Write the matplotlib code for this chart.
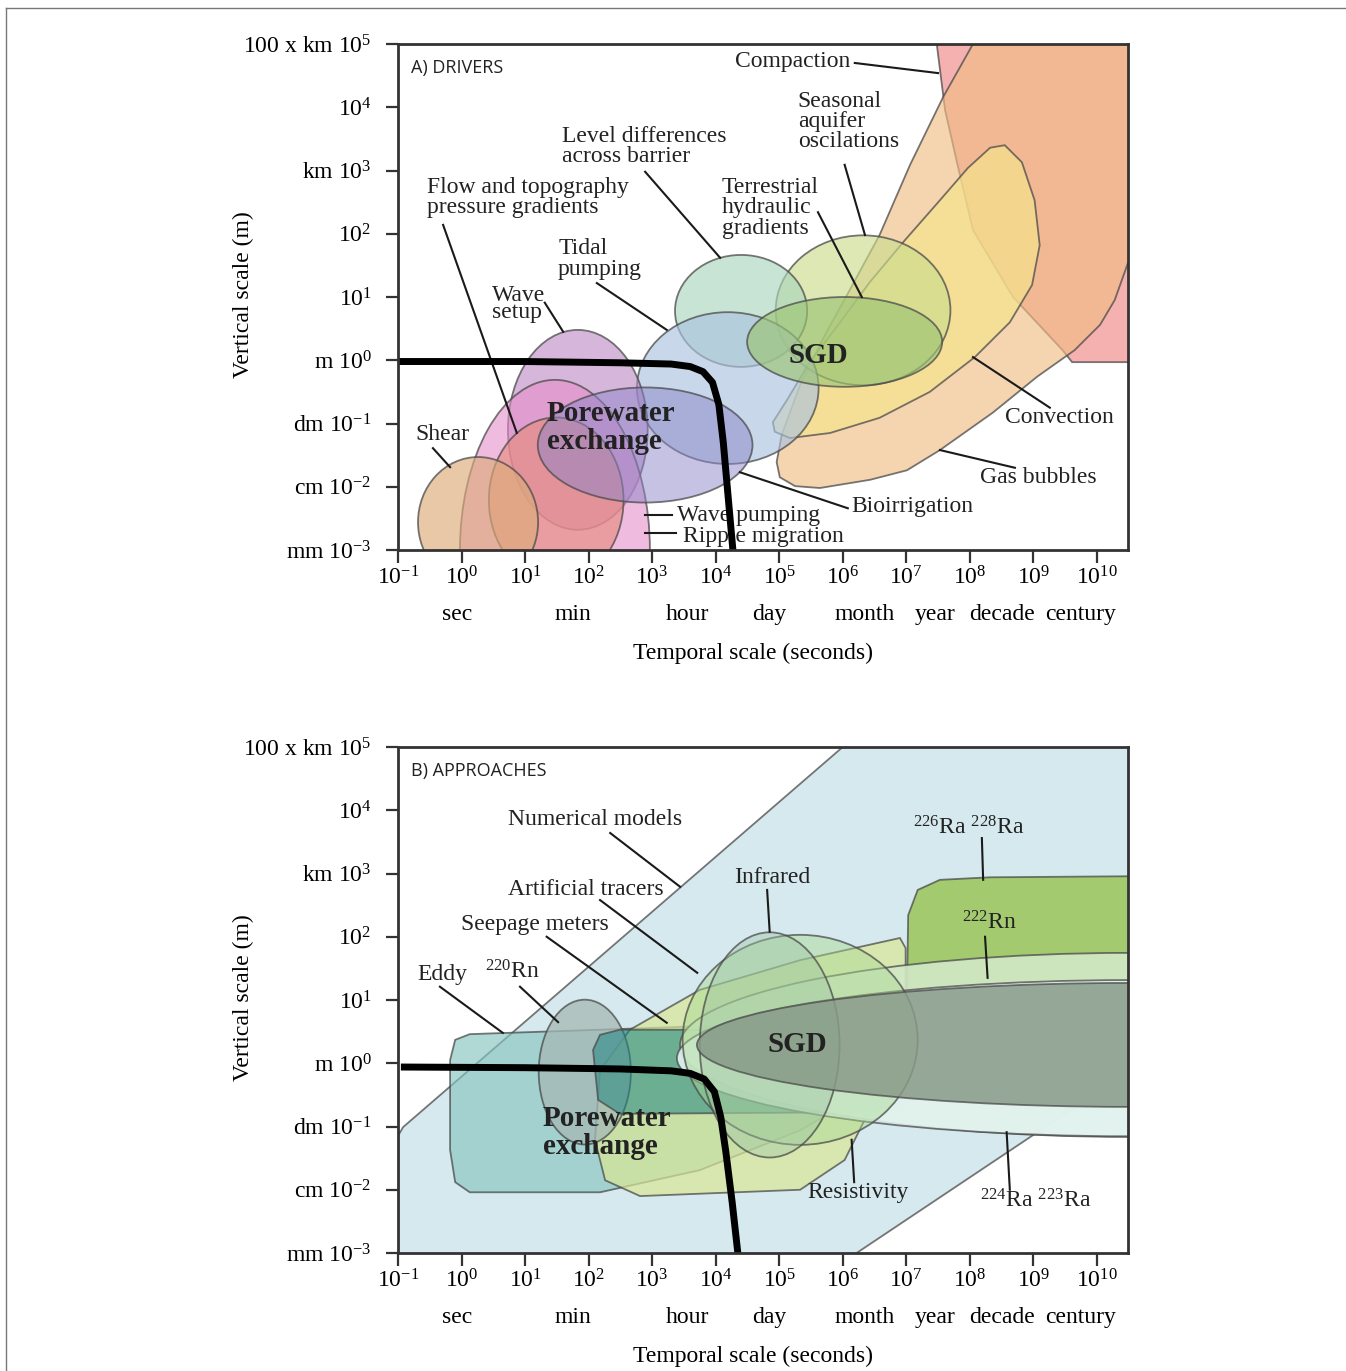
import matplotlib.pyplot as plt
from matplotlib.patches import Ellipse, Polygon
from matplotlib.lines import Line2D
from matplotlib.colors import to_rgba
import matplotlib.transforms as mtransforms

plt.rcParams['font.family'] = ['Liberation Serif', 'DejaVu Serif']
plt.rcParams['mathtext.fontset'] = 'custom'
plt.rcParams['mathtext.rm'] = 'Liberation Serif'
plt.rcParams['mathtext.it'] = 'Liberation Serif:italic'
plt.rcParams['mathtext.bf'] = 'Liberation Serif:bold'

# both axes are in log10 units: x = log10(seconds), y = log10(metres)
x_ticks = list(range(-1, 11))
x_tick_labels = [r'$10^{%d}$' % e for e in x_ticks]
time_units = ['sec', 'min', 'hour', 'day', 'month', 'year', 'decade', 'century']
time_unit_pos = [-0.07, 1.75, 3.55, 4.85, 6.35, 7.45, 8.5, 9.75]
y_ticks = list(range(-3, 6))
y_tick_labels = ['mm $10^{-3}$', 'cm $10^{-2}$', 'dm $10^{-1}$', 'm $10^{0}$',
                 '$10^{1}$', '$10^{2}$', 'km $10^{3}$', '$10^{4}$',
                 '100 x km $10^{5}$']

# porewater exchange / SGD boundary
bound_a_x = [-1.0, 1.0, 2.5, 3.3, 3.6, 3.8, 3.95, 4.05, 4.12, 4.2, 4.28]
bound_a_y = [-0.02, -0.02, -0.04, -0.06, -0.1, -0.18, -0.35, -0.7, -1.3, -2.2, -3.1]
bound_b_x = [-0.9, 1.0, 2.5, 3.3, 3.6, 3.82, 3.98, 4.08, 4.16, 4.26, 4.36]
bound_b_y = [-0.06, -0.07, -0.09, -0.12, -0.16, -0.25, -0.45, -0.85, -1.4, -2.2, -3.1]

# ---- A) drivers: ellipses (centre x, centre y, width, height) ----
drv_names = ['Seasonal aquifer oscillations', 'Level differences across barrier',
             'Tidal pumping', 'Terrestrial hydraulic gradients', 'Wave setup',
             'Ripple migration', 'Flow and topography pressure gradients',
             'Bioirrigation', 'Shear']
drv_x = [6.32, 4.40, 4.19, 6.03, 1.83, 1.47, 1.49, 2.89, 0.26]
drv_y = [0.79, 0.78, -0.44, 0.29, -1.10, -3.0, -2.21, -1.34, -2.56]
drv_w = [2.75, 2.08, 2.86, 3.07, 2.20, 2.99, 2.12, 3.38, 1.89]
drv_h = [2.37, 1.77, 2.40, 1.42, 3.16, 5.38, 2.61, 1.82, 2.06]
drv_colors = ['#cbdd8d', '#abd6bd', '#abc3df', '#9cc474', '#bd86c3',
              '#e58ec8', '#e88a78', '#8c86c9', '#dcab79']
drv_alpha = [0.65, 0.65, 0.65, 0.65, 0.6, 0.6, 0.6, 0.5, 0.65]

# A) drivers: free-form regions
compaction_x = [7.45, 7.48, 7.61, 7.80, 8.05, 8.68, 9.46, 9.61, 10.99, 10.99]
compaction_y = [5.38, 5.0, 3.96, 3.12, 2.06, 1.0, 0.16, -0.03, -0.03, 5.38]
gas_x = [8.24, 10.99, 10.99, 10.49, 10.28, 10.05, 9.65, 9.06, 8.36, 7.53, 7.01,
         6.43, 5.64, 5.25, 5.01, 4.96, 5.04, 5.33, 5.72, 6.11, 6.58, 7.06, 7.58, 8.05]
gas_y = [5.38, 5.38, 2.22, 1.54, 0.95, 0.56, 0.16, -0.26, -0.83, -1.42, -1.74,
         -1.89, -2.02, -1.99, -1.85, -1.61, -1.18, -0.39, 0.40, 1.11, 1.98, 3.09, 4.16, 5.0]
convection_x = [4.93, 5.17, 5.80, 6.58, 7.37, 8.08, 8.63, 8.98, 9.10, 9.02, 8.82,
                8.55, 8.32, 7.97, 7.53, 6.98, 6.43, 5.96, 5.48, 5.14, 4.90]
convection_y = [-1.13, -1.23, -1.15, -0.91, -0.50, 0.05, 0.60, 1.19, 1.82, 2.53, 3.13,
                3.40, 3.36, 3.04, 2.53, 1.90, 1.24, 0.60, -0.03, -0.60, -0.98]

# ---- B) approaches ----
numerical_x = [-1.0, -1.0, -0.92, 6.0, 10.6, 10.6, 6.07]
numerical_y = [-3.1, -1.15, -1.01, 5.0, 5.0, -0.06, -3.1]
eddy_x = [-0.18, -0.10, 0.13, 2.18, 4.70, 6.43, 6.66, 6.43, 5.33, 3.75, 2.18, 0.13, -0.10, -0.18]
eddy_y = [0.05, 0.37, 0.46, 0.53, 0.62, 0.56, 0.13, -0.42, -1.06, -1.69, -2.04, -2.04, -1.88, -1.37]
seepage_x = [2.07, 2.18, 2.49, 6.90, 7.37, 6.90, 2.49, 2.15]
seepage_y = [0.21, 0.45, 0.53, 0.53, -0.14, -0.77, -0.80, -0.58]
tracer_x = [2.10, 2.18, 2.65, 3.75, 5.33, 6.90, 6.99, 6.99, 6.58, 6.03, 5.33, 2.81, 2.26]
tracer_y = [-1.21, -0.11, 0.53, 1.16, 1.63, 1.98, 1.82, 0.84, -0.42, -1.53, -2.0, -2.10, -1.85]
radium_x = [7.01, 7.03, 7.18, 7.53, 8.32, 10.99, 10.99, 8.32, 7.53, 7.14]
radium_y = [1.0, 2.34, 2.74, 2.90, 2.94, 2.96, 0.0, 0.02, 0.13, 0.45]

app_names = ['220Rn', '222Rn', '224Ra 223Ra', 'Resistivity', 'Infrared', 'SGD']
app_x = [1.94, 10.52, 10.52, 5.33, 4.85, 10.52]
app_y = [-0.14, 0.29, 0.08, 0.37, 0.29, 0.29]
app_w = [1.45, 14.16, 14.26, 3.70, 2.20, 13.63]
app_h = [2.29, 2.91, 2.47, 3.32, 3.56, 1.96]
app_colors = ['#a5b8b4', '#d2e9c6', '#e4f4f3', '#a8d890', '#9cc4a4', '#889a88']
app_alpha = [0.75, 0.9, 0.88, 0.45, 0.4, 0.85]

EDGE = to_rgba('#4a4a4a', 0.75)


def add_patch(ax, patch, color, alpha=0.65):
    patch.set_facecolor(to_rgba(color, alpha))
    patch.set_edgecolor(EDGE)
    patch.set_linewidth(1.3)
    ax.add_patch(patch)


def add_poly(ax, xs, ys, color, alpha=0.65):
    add_patch(ax, Polygon(list(zip(xs, ys)), closed=True), color, alpha)


def label(ax, x, y, s, line=None, **kw):
    kw.setdefault('fontsize', 17)
    ax.text(x, y, s, ha=kw.pop('ha', 'left'), va=kw.pop('va', 'center'),
            color='#222222', zorder=5, linespacing=kw.pop('linespacing', 0.95), **kw)
    if line is not None:
        ax.plot(line[0], line[1], color='#1a1a1a', lw=1.5, zorder=5)


def style_axes(ax, title):
    ax.set_xlim(-1, 10.49)
    ax.set_ylim(-3, 5)
    ax.set_xticks(x_ticks)
    ax.set_xticklabels(x_tick_labels, fontsize=17)
    ax.set_yticks(y_ticks)
    ax.set_yticklabels(y_tick_labels, fontsize=17)
    ax.tick_params(axis='both', direction='out', length=9, width=1.6, color='#333333')
    ax.tick_params(axis='x', pad=3)
    ax.tick_params(axis='y', pad=10)
    for sp in ax.spines.values():
        sp.set_linewidth(2)
        sp.set_color('#333333')
        sp.set_zorder(10)
    trans = mtransforms.blended_transform_factory(ax.transData, ax.transAxes)
    for u, p in zip(time_units, time_unit_pos):
        ax.text(p, -0.127, u, transform=trans, ha='center', va='center', fontsize=17)
    ax.text(0.486, -0.204, 'Temporal scale (seconds)', transform=ax.transAxes,
            ha='center', va='center', fontsize=17)
    ax.text(-0.212, 0.504, 'Vertical scale (m)', transform=ax.transAxes, rotation=90,
            ha='center', va='center', fontsize=17)
    ax.text(0.018, 0.952, title, transform=ax.transAxes, ha='left', va='center',
            fontsize=13, family='Open Sans', color='#222222', zorder=5)


fig = plt.figure(figsize=(13.46, 13.71), dpi=100)
ax_a = fig.add_axes([398 / 1346, 1 - 550 / 1371, 730 / 1346, 506 / 1371])
ax_b = fig.add_axes([398 / 1346, 1 - 1253 / 1371, 730 / 1346, 506 / 1371])

# ---------------- panel A ----------------
add_poly(ax_a, compaction_x, compaction_y, '#f08686')
add_poly(ax_a, gas_x, gas_y, '#f1bd86')
add_poly(ax_a, convection_x, convection_y, '#f5e58b')
for i in range(len(drv_names)):
    add_patch(ax_a, Ellipse((drv_x[i], drv_y[i]), drv_w[i], drv_h[i]), drv_colors[i], drv_alpha[i])
ax_a.plot(bound_a_x, bound_a_y, color='black', lw=5, zorder=6, solid_joinstyle='round')

label(ax_a, 4.30, 4.72, 'Compaction', line=([6.19, 7.50], [4.70, 4.54]))
label(ax_a, 5.29, 3.77, 'Seasonal\naquifer\noscilations', line=([6.03, 6.35], [3.09, 1.98]))
label(ax_a, 1.58, 3.38, 'Level differences\nacross barrier', line=([2.89, 4.07], [2.98, 1.62]))
label(ax_a, -0.54, 2.57, 'Flow and topography\npressure gradients', line=([-0.29, 0.87], [2.14, -1.15]))
label(ax_a, 4.10, 2.41, 'Terrestrial\nhydraulic\ngradients', line=([5.61, 6.30], [2.34, 1.0]))
label(ax_a, 1.52, 1.60, 'Tidal\npumping', line=([2.13, 3.23], [1.22, 0.48]))
label(ax_a, 0.48, 0.89, 'Wave\nsetup', line=([1.31, 1.60], [0.91, 0.45]), linespacing=0.75)
label(ax_a, -0.73, -1.18, 'Shear', line=([-0.45, -0.18], [-1.39, -1.69]))
label(ax_a, 8.55, -0.91, 'Convection', line=([8.05, 9.26], [0.05, -0.75]))
label(ax_a, 8.16, -1.86, 'Gas bubbles', line=([7.53, 8.71], [-1.42, -1.70]))
label(ax_a, 6.13, -2.32, 'Bioirrigation', line=([4.38, 6.08], [-1.77, -2.34]))
label(ax_a, 3.39, -2.45, 'Wave pumping', line=([2.89, 3.31], [-2.45, -2.45]))
label(ax_a, 3.48, -2.79, 'Ripple migration', line=([2.89, 3.37], [-2.73, -2.73]))
label(ax_a, 1.34, -1.06, 'Porewater\nexchange', fontsize=21, fontweight='bold', linespacing=1.05)
label(ax_a, 5.61, 0.07, 'SGD', fontsize=21, fontweight='bold', ha='center')
style_axes(ax_a, 'A) DRIVERS')

# ---------------- panel B ----------------
add_poly(ax_b, numerical_x, numerical_y, '#d6e9ee', alpha=1.0)
add_poly(ax_b, eddy_x, eddy_y, '#86c5c0')
add_poly(ax_b, tracer_x, tracer_y, '#d9e795', alpha=0.7)
add_patch(ax_b, Ellipse((app_x[0], app_y[0]), app_w[0], app_h[0]), app_colors[0], app_alpha[0])
add_poly(ax_b, seepage_x, seepage_y, '#1f8582', alpha=0.55)
add_poly(ax_b, radium_x, radium_y, '#9cc55a', alpha=0.85)
for i in range(1, len(app_names)):
    add_patch(ax_b, Ellipse((app_x[i], app_y[i]), app_w[i], app_h[i]), app_colors[i], app_alpha[i])
ax_b.plot(bound_b_x, bound_b_y, color='black', lw=5, zorder=6, solid_joinstyle='round')

label(ax_b, 0.73, 3.85, 'Numerical models', line=([2.34, 3.44], [3.64, 2.79]))
label(ax_b, 0.73, 2.74, 'Artificial tracers', line=([2.18, 3.71], [2.58, 1.43]))
label(ax_b, -0.01, 2.19, 'Seepage meters', line=([1.34, 3.23], [2.0, 0.64]))
label(ax_b, -0.70, 1.40, 'Eddy', line=([-0.34, 0.65], [1.21, 0.48]))
label(ax_b, 0.37, 1.44, r'$^{220}$Rn', line=([0.92, 1.52], [1.21, 0.65]))
label(ax_b, 4.29, 2.93, 'Infrared', line=([4.81, 4.85], [2.74, 2.08]))
label(ax_b, 7.10, 3.72, r'$^{226}$Ra $^{228}$Ra', line=([8.19, 8.21], [3.56, 2.90]))
label(ax_b, 7.88, 2.22, r'$^{222}$Rn', line=([8.24, 8.28], [2.0, 1.35]))
label(ax_b, 5.45, -2.04, 'Resistivity', line=([6.14, 6.18], [-1.21, -1.88]))
label(ax_b, 8.16, -2.18, r'$^{224}$Ra $^{223}$Ra', line=([8.58, 8.63], [-1.09, -2.0]))
label(ax_b, 1.28, -1.10, 'Porewater\nexchange', fontsize=21, fontweight='bold', linespacing=1.05)
label(ax_b, 5.28, 0.29, 'SGD', fontsize=21, fontweight='bold', ha='center')
style_axes(ax_b, 'B) APPROACHES')

# thin frame around the figure
fig.add_artist(Line2D([6 / 1346, 6 / 1346], [0, 1 - 8 / 1371], transform=fig.transFigure,
                      color='#777777', lw=1))
fig.add_artist(Line2D([6 / 1346, 1], [1 - 8 / 1371, 1 - 8 / 1371], transform=fig.transFigure,
                      color='#777777', lw=1))

fig.savefig('out.png', dpi=100)
